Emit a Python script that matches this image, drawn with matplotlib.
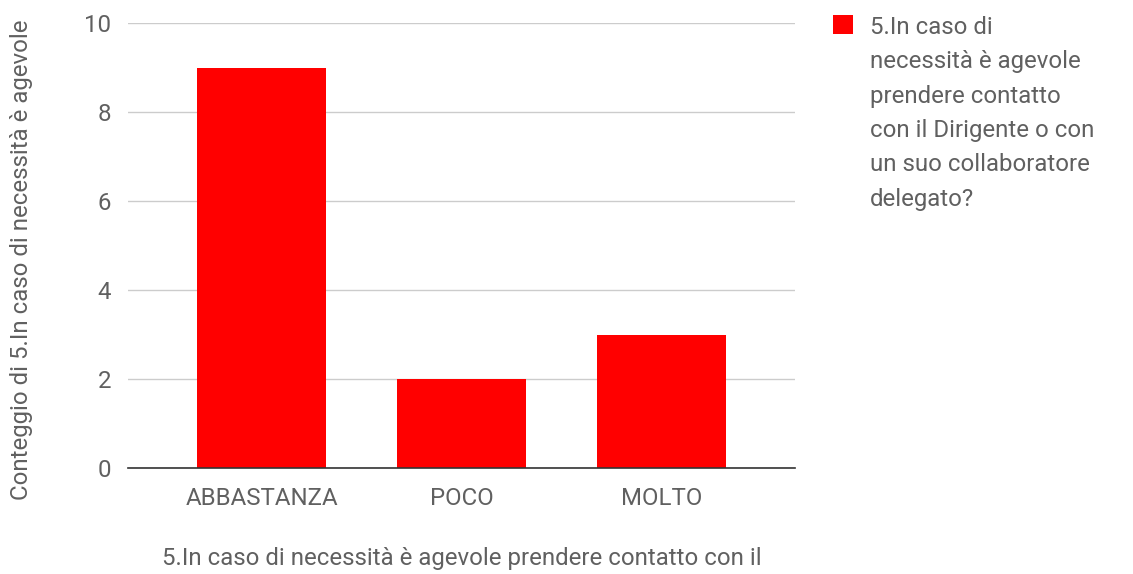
import matplotlib
matplotlib.use("Agg")
import matplotlib.pyplot as plt

categories = ["ABBASTANZA", "POCO", "MOLTO"]
counts = [9, 2, 3]
y_ticks = [0, 2, 4, 6, 8, 10]
series_name = ("5.In caso di\nnecessità è agevole\nprendere contatto\n"
               "con il Dirigente o con\nun suo collaboratore\ndelegato?")
x_title = "5.In caso di necessità è agevole prendere contatto con il"
y_title = "Conteggio di 5.In caso di necessità è agevole"

plt.rcParams['font.family'] = ['Roboto', 'DejaVu Sans']
TXT = '#606060'
FS = 17.3
DPI = 100

fig = plt.figure(figsize=(11.33, 5.74), dpi=DPI)
ax = fig.add_axes([128/1133, 106/574, 667/1133, 445/574])

x = list(range(len(categories)))
ax.bar(x, counts, width=0.645, color='#ff0000', zorder=3, label=series_name)

ax.set_xlim(-0.67, 2.67)
ax.set_ylim(0, 10)
ax.set_yticks(y_ticks)
ax.set_yticklabels([str(v) for v in y_ticks], fontsize=FS, color=TXT)
ax.set_xticks(x)
ax.set_xticklabels(categories, fontsize=FS, color=TXT)
ax.tick_params(axis='y', length=0, pad=12)
ax.tick_params(axis='x', length=0, pad=14)
ax.grid(axis='y', color='#cccccc', linewidth=1, zorder=0)
for s in ['top', 'right', 'left']:
    ax.spines[s].set_visible(False)
ax.spines['bottom'].set_color('#333333')
ax.spines['bottom'].set_linewidth(1.2)
ax.spines['bottom'].set_zorder(4)

fig.text(462/1133, 1 - 558/574, x_title, fontsize=FS, color=TXT,
         ha='center', va='center')
fig.text(22/1133, 1 - 260/574, y_title, fontsize=FS, color=TXT,
         ha='center', va='center', rotation=90)

leg = ax.legend(loc='upper left', bbox_to_anchor=(833/1133, 1 - 16/574),
                bbox_transform=fig.transFigure, frameon=False,
                fontsize=FS, labelcolor=TXT, handlelength=0.85,
                handleheight=0.85, handletextpad=0.7, borderpad=0,
                borderaxespad=0)
for t in leg.get_texts():
    t.set_linespacing(1.63)

# align legend swatch with the first text line (top of the label)
fig.canvas.draw()
rect = leg.legend_handles[0]
ext = rect.get_window_extent()
desired_top = 574 - 15
delta_px = desired_top - ext.y1
rect.set_y(rect.get_y() + delta_px * 72 / DPI)

fig.savefig("out.png", dpi=DPI)
